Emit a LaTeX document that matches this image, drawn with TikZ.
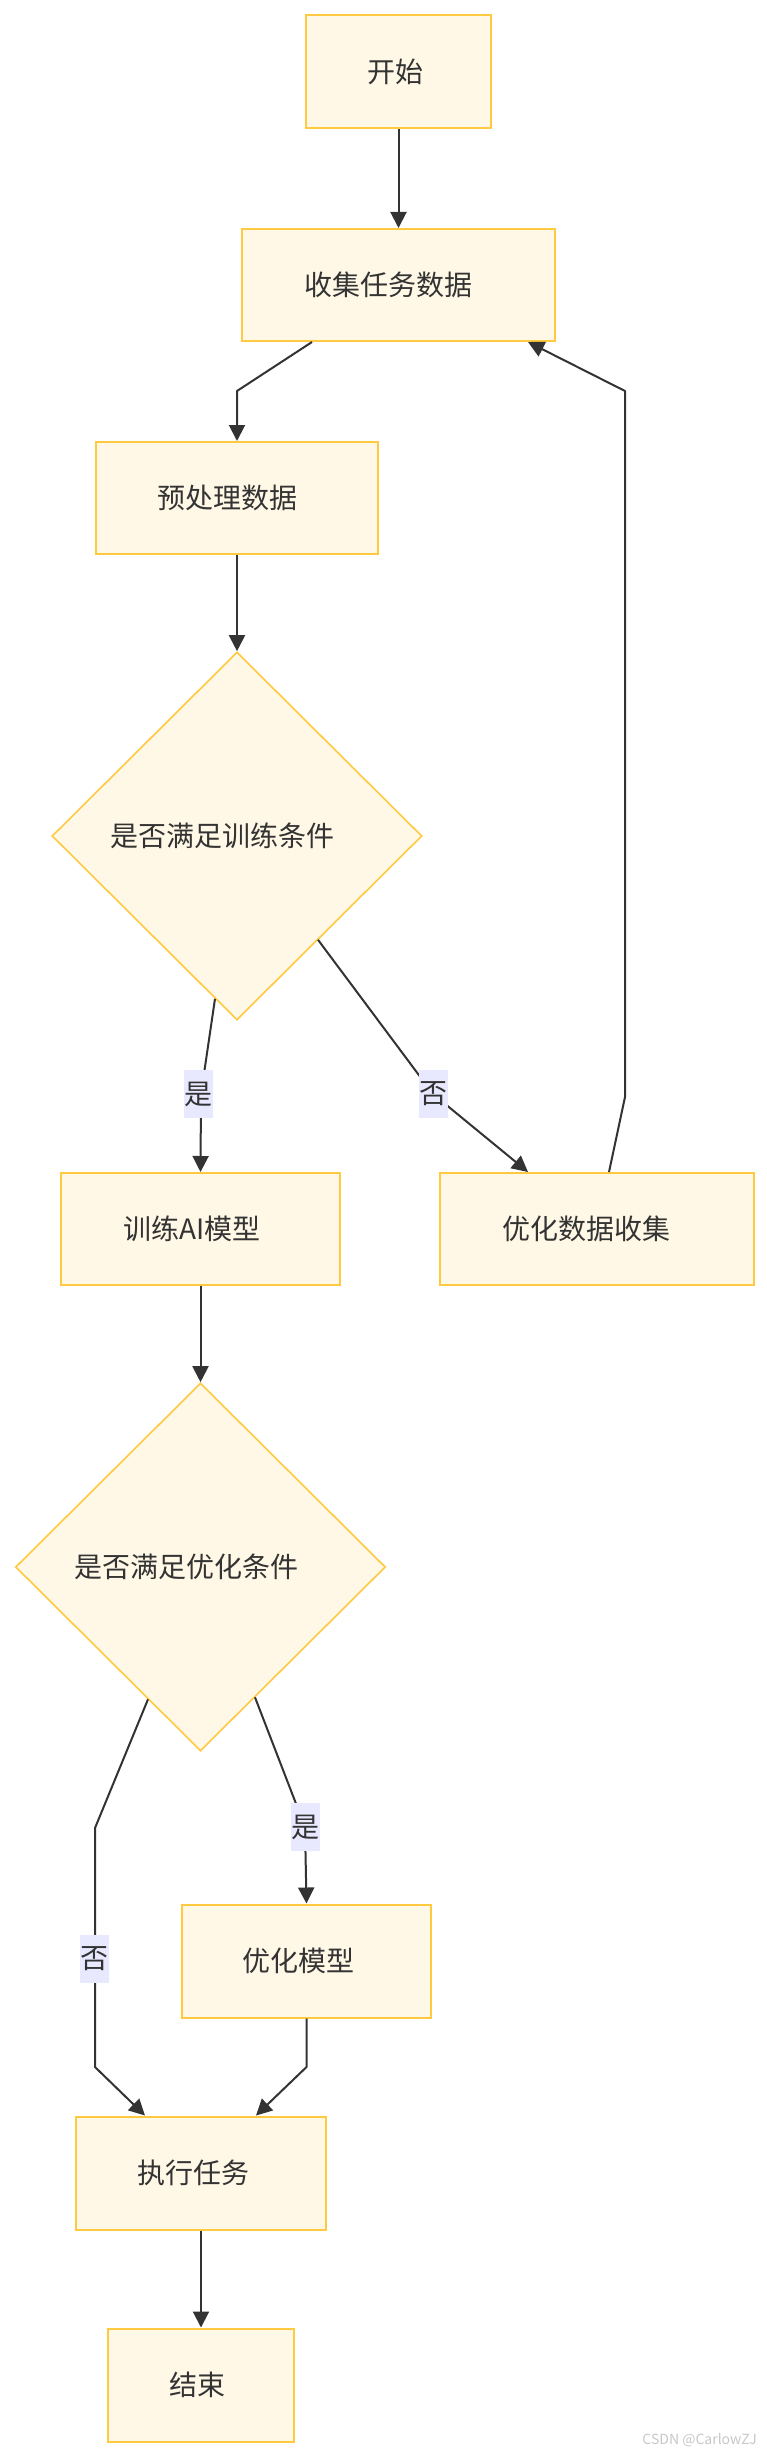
\documentclass[tikz,border=0pt]{standalone}
\usepackage{fontspec}
\setmainfont{Noto Sans CJK SC}
\usetikzlibrary{arrows.meta,shapes.geometric,calc}
\definecolor{boxfill}{HTML}{FFF8E6}
\definecolor{boxline}{HTML}{FFC940}
\definecolor{ink}{HTML}{333333}
\definecolor{lblfill}{HTML}{E8E8FF}
\definecolor{wm}{HTML}{C8C8C8}
\begin{document}
\begin{tikzpicture}[x=1pt,y=-1pt,
 box/.style={draw=boxline,fill=boxfill,line width=2pt,rectangle,inner sep=0pt},
 dia/.style={draw=boxline,fill=boxfill,line width=1.6pt,diamond,inner sep=0pt,minimum width=370pt,minimum height=368pt},
 txt/.style={text=ink,font=\fontsize{28}{33}\selectfont,inner sep=0pt},
 elbl/.style={fill=lblfill,text=ink,font=\fontsize{28}{33}\selectfont,inner sep=0pt,minimum width=29pt,minimum height=48pt},
 arr/.style={draw=ink,line width=2pt,line join=round,-{Triangle[width=16pt,length=16pt]}},
]
\useasboundingbox[fill=white] (0,0) rectangle (766,2456);

\node[box,minimum width=185pt,minimum height=113pt,label={[txt,name=startT,xshift=-3.5pt]center:开始}] (start) at (398.5,72) {};
\node[box,minimum width=313pt,minimum height=112pt,label={[txt,name=collectT,xshift=-10pt]center:收集任务数据}] (collect) at (398.5,285) {};
\node[box,minimum width=282pt,minimum height=112pt,label={[txt,name=prepT,xshift=-9.5pt]center:预处理数据}] (prep) at (237,498) {};
\node[dia,label={[txt,name=d1T,xshift=-14.5pt]center:是否满足训练条件}] (d1) at (237,836) {};
\node[box,minimum width=279pt,minimum height=112pt,label={[txt,name=trainT,xshift=-8.5pt]center:训练AI模型}] (train) at (200.5,1229) {};
\node[box,minimum width=314pt,minimum height=112pt,label={[txt,name=optdT,xshift=-11pt]center:优化数据收集}] (optd) at (597,1229) {};
\node[dia,label={[txt,name=d2T,xshift=-14.5pt]center:是否满足优化条件}] (d2) at (200.5,1567) {};
\node[box,minimum width=249pt,minimum height=113pt,label={[txt,name=optmT,xshift=-8pt]center:优化模型}] (optm) at (306.5,1961) {};
\node[box,minimum width=250pt,minimum height=113pt,label={[txt,name=execT,xshift=-7.5pt]center:执行任务}] (exec) at (201,2173) {};
\node[box,minimum width=186pt,minimum height=113pt,label={[txt,name=finishT,xshift=-4pt]center:结束}] (finish) at (201,2385) {};

\coordinate (b1) at (237,391);
\coordinate (y1) at (201,1094);
\coordinate (n1) at (433,1094);
\coordinate (c1) at (625,1097);
\coordinate (c2) at (625,391);
\coordinate (n2a) at (95,1828);
\coordinate (n2b) at (95,2067);
\coordinate (y2) at (305,1827);
\coordinate (m1) at (306.5,2067);

\draw[arr] (start) -- (collect);
\draw[arr] ($(collect.south)+(-86.5,0)$) -- (b1) -- (prep.north);
\draw[arr] (prep) -- (d1);
\draw[arr] ($(d1.south)+(-22,-22)$) -- (y1) -- (train.north);
\draw[arr] ($(d1.south)+(81,-81)$) -- (n1) -- ($(optd.north)+(-69,0)$);
\draw[arr] ($(optd.north)+(12,0)$) -- (c1) -- (c2) -- ($(collect.south)+(129.5,0)$);
\draw[arr] (train) -- (d2);
\draw[arr] ($(d2.south)+(-52.5,-52.5)$) -- (n2a) -- (n2b) -- ($(exec.north)+(-56,0)$);
\draw[arr] ($(d2.south)+(54.5,-54.5)$) -- (y2) -- (optm.north);
\draw[arr] (optm.south) -- (m1) -- ($(exec.north)+(55,0)$);
\draw[arr] (exec) -- (finish);

\node[elbl] (ly1) at (198,1094) {是};
\node[elbl] (ln1) at (433,1094) {否};
\node[elbl] (ln2) at (94,1959) {否};
\node[elbl] (ly2) at (305,1827) {是};

\node[anchor=east,text=wm,font=\fontsize{14}{16}\selectfont,inner sep=0pt] (wmk) at (757,2440) {CSDN @CarlowZJ};
\end{tikzpicture}
\end{document}
